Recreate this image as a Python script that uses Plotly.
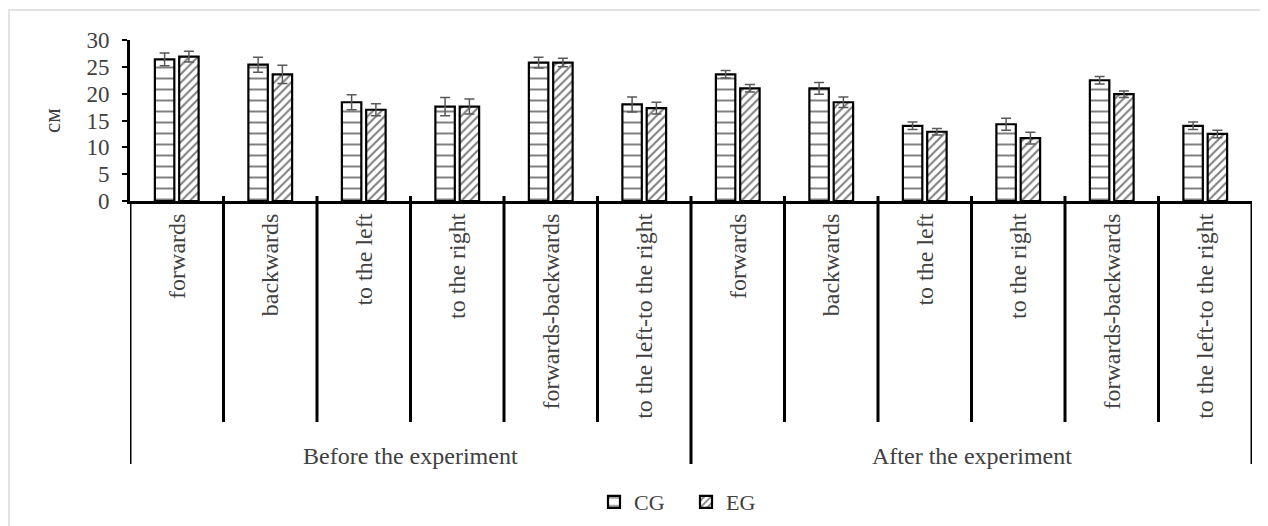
import plotly.graph_objects as go

groups = ["Before the experiment", "After the experiment"]
categories = ["forwards", "backwards", "to the left", "to the right",
              "forwards-backwards", "to the left-to the right"]

cg_values = [26.4, 25.4, 18.4, 17.6, 25.8, 18.0,
             23.6, 21.0, 14.0, 14.3, 22.5, 14.0]
cg_errors = [1.2, 1.4, 1.4, 1.7, 1.0, 1.4,
             0.7, 1.1, 0.7, 1.1, 0.7, 0.7]
eg_values = [26.9, 23.6, 17.0, 17.6, 25.8, 17.3,
             21.0, 18.4, 12.9, 11.7, 19.9, 12.5]
eg_errors = [1.0, 1.7, 1.1, 1.4, 0.8, 1.1,
             0.7, 1.0, 0.6, 1.1, 0.6, 0.7]

y_ticks = [0, 5, 10, 15, 20, 25, 30]
y_title = "см"

labels = categories * len(groups)
xs = list(range(len(labels)))

FONT = "Liberation Serif, Times New Roman, serif"
TXT = "#404040"

OFF = 8  # page body margin
W, H = 1268 - OFF, 526 - OFF
L, T = 130 - OFF, 40 - OFF
R = W - (1252 - OFF)
B = H - (201 - OFF)
PH = H - T - B
PW = W - L - R


def py(px):  # screen pixel y -> paper
    return 1 - (px - OFF - T) / PH


def px_x(px):  # screen pixel x -> paper
    return (px - OFF - L) / PW


fig = go.Figure()
fig.add_trace(go.Bar(
    x=xs, y=cg_values, name="CG",
    marker=dict(color="white", line=dict(color="black", width=2.2),
                pattern=dict(shape="-", fgcolor="black", bgcolor="white",
                             size=11, solidity=0.18)),
    error_y=dict(type="data", array=cg_errors, visible=True,
                 color="#595959", thickness=1.5, width=5),
))
fig.add_trace(go.Bar(
    x=xs, y=eg_values, name="EG",
    marker=dict(color="white", line=dict(color="black", width=2.2),
                pattern=dict(shape="/", fgcolor="black", bgcolor="white",
                             size=6, solidity=0.35)),
    error_y=dict(type="data", array=eg_errors, visible=True,
                 color="#595959", thickness=1.5, width=5),
))

shapes = []
n = len(labels)
per = len(categories)
for i in range(n + 1):
    xb = i - 0.5
    is_group = (i % per == 0)
    shapes.append(dict(
        type="line", xref="x", yref="paper",
        x0=xb, x1=xb,
        y0=py(464) if is_group else py(422),
        y1=py(196) if (0 < i < n) else py(201),
        line=dict(color="black", width=3),
    ))
shapes.append(dict(type="rect", xref="paper", yref="paper",
                   x0=px_x(9), x1=px_x(1290), y0=py(545), y1=py(10),
                   line=dict(color="#d9d9d9", width=1.5), layer="below"))

annotations = []
for g, name in enumerate(groups):
    annotations.append(dict(
        x=g * per + (per - 1) / 2, xref="x", y=py(456), yref="paper",
        text=name, showarrow=False,
        font=dict(family=FONT, size=24, color=TXT),
        xanchor="center", yanchor="middle",
    ))

fig.update_layout(
    width=W, height=H,
    margin=dict(l=L, r=R, t=T, b=B, autoexpand=False),
    paper_bgcolor="white", plot_bgcolor="white",
    barmode="group", bargap=0.48, bargroupgap=0.2,
    showlegend=True,
    legend=dict(orientation="h", x=px_x(594), xanchor="left",
                y=py(502), yanchor="middle",
                font=dict(family=FONT, size=22, color=TXT),
                itemwidth=30, entrywidth=47, entrywidthmode="pixels",
                traceorder="normal"),
    shapes=shapes, annotations=annotations,
    font=dict(family=FONT, color=TXT),
)
fig.update_xaxes(
    range=[-0.5, n - 0.5], tickvals=xs, ticktext=labels, tickangle=-90,
    tickfont=dict(family=FONT, size=24, color=TXT),
    showline=True, linecolor="black", linewidth=3,
    ticks="", showgrid=False, zeroline=False, ticklabelstandoff=0,
)
fig.update_yaxes(
    range=[0, 30], tickvals=y_ticks,
    tickfont=dict(family=FONT, size=23, color=TXT),
    showline=True, linecolor="black", linewidth=3,
    ticks="outside", ticklen=5, tickwidth=2, tickcolor="black",
    ticklabelstandoff=8,
    showgrid=False, zeroline=False,
    title=dict(text=y_title, font=dict(family=FONT, size=23, color=TXT), standoff=20),
)

fig.write_html("out.html")
